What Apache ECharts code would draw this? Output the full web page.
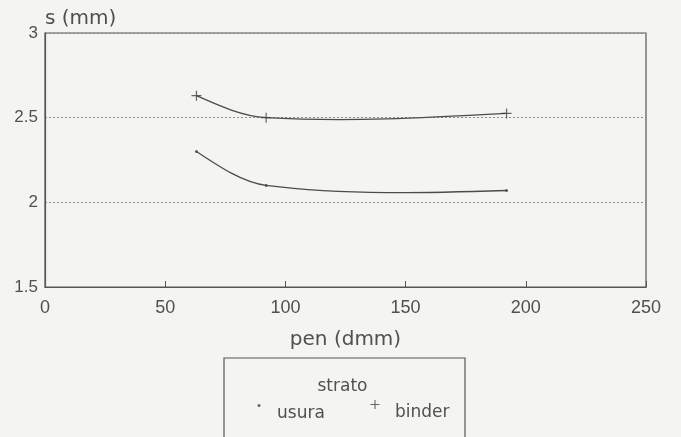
<!DOCTYPE html>
<html>
<head>
<meta charset="utf-8">
<script src="https://cdn.jsdelivr.net/npm/echarts@6/dist/echarts.min.js"></script>
<style>
  html, body { margin: 0; padding: 0; background: #f4f4f2; }
  #chart { width: 681px; height: 437px; }
</style>
</head>
<body>
<div id="chart"></div>
<script>
// penetration (dmm) vs. s (mm), per layer
const penValues = [63, 92, 192];
const usuraValues = [2.30, 2.10, 2.07];
const binderValues = [2.63, 2.50, 2.525];
const xTicks = [0, 50, 100, 150, 200, 250];
const yTicks = [1.5, 2, 2.5, 3];
const legendTitle = 'strato';
const seriesNames = ['usura', 'binder'];

const ink = '#505050';
const lineInk = '#4c4c4c';
const markInk = '#404040';
const wordFont = 'DejaVu Sans';
const numFont = 'Liberation Sans';
const plusPath = 'path://M0,4.4H10V5.6H0Z M4.4,0H5.6V10H4.4Z';

// Slopes for a cubic Hermite spline through pixel points:
// central differences inside, natural (quadratic) ends.
function splineSlopes(pts) {
  const n = pts.length;
  const d = [];
  for (let i = 0; i < n - 1; i++) {
    d.push((pts[i + 1][1] - pts[i][1]) / (pts[i + 1][0] - pts[i][0]));
  }
  const m = new Array(n);
  if (n === 2) { m[0] = m[1] = d[0]; return m; }
  for (let i = 1; i < n - 1; i++) {
    m[i] = (pts[i + 1][1] - pts[i - 1][1]) / (pts[i + 1][0] - pts[i - 1][0]);
  }
  m[0] = (3 * d[0] - m[1]) / 2;
  m[n - 1] = (3 * d[n - 2] - m[n - 2]) / 2;
  return m;
}

// One bezier segment per data point, from that point to the next.
function curveSeries(name, values) {
  return {
    name: name,
    type: 'custom',
    data: penValues.map((p, i) => [p, values[i]]),
    encode: { x: 0, y: 1 },
    silent: true,
    z: 2,
    itemStyle: { color: markInk },
    renderItem: function (params, api) {
      const i = params.dataIndex;
      if (i >= penValues.length - 1) return { type: 'group', children: [] };
      const pts = penValues.map((p, k) => api.coord([p, values[k]]));
      const m = splineSlopes(pts);
      const a = pts[i], b = pts[i + 1];
      const h = (b[0] - a[0]) / 3;
      return {
        type: 'bezierCurve',
        shape: {
          x1: a[0], y1: a[1], x2: b[0], y2: b[1],
          cpx1: a[0] + h, cpy1: a[1] + m[i] * h,
          cpx2: b[0] - h, cpy2: b[1] - m[i + 1] * h
        },
        style: { stroke: lineInk, lineWidth: 1.3, fill: null }
      };
    }
  };
}

// legend label sits a little below its marker
function legendText(padLeft) {
  return {
    fontFamily: wordFont, fontSize: 17, color: ink,
    rich: { t: { fontFamily: wordFont, fontSize: 17, color: ink, padding: [16, 0, 0, padLeft] } }
  };
}

const chart = echarts.init(document.getElementById('chart'));
chart.setOption({
  backgroundColor: '#f4f4f2',
  animation: false,
  grid: {
    left: 45, right: 35, top: 33, bottom: 150,
    show: true, borderColor: '#555', borderWidth: 1.2, backgroundColor: 'transparent'
  },
  xAxis: {
    type: 'value',
    min: xTicks[0], max: xTicks[xTicks.length - 1], interval: 50,
    name: 'pen (dmm)', nameLocation: 'middle', nameGap: 43,
    nameTextStyle: { fontFamily: wordFont, fontSize: 20, color: ink },
    axisLine: { show: true, lineStyle: { color: '#555', width: 1.2 } },
    axisTick: { show: true, inside: true, length: 6, lineStyle: { color: '#555' } },
    axisLabel: { margin: 12, fontFamily: numFont, fontSize: 18, color: ink },
    splitLine: { show: false }
  },
  yAxis: {
    type: 'value',
    min: yTicks[0], max: yTicks[yTicks.length - 1], interval: 0.5,
    name: 's (mm)', nameLocation: 'end', nameGap: 4,
    nameTextStyle: { fontFamily: wordFont, fontSize: 20, color: ink, align: 'left', padding: [0, 0, 0, 0] },
    axisLine: { show: true, lineStyle: { color: '#555', width: 1.2 } },
    axisTick: { show: false },
    axisLabel: {
      margin: 7, fontFamily: numFont, fontSize: 17, color: ink,
      formatter: v => String(v)
    },
    splitLine: { show: true, lineStyle: { color: '#8a8a8a', type: [2, 2], width: 1 } }
  },
  graphic: [
    {
      type: 'rect',
      shape: { x: 224, y: 358, width: 241, height: 82 },
      style: { fill: 'none', stroke: '#555', lineWidth: 1.2 }
    },
    {
      type: 'text', x: 342.5, y: 387,
      style: {
        text: legendTitle, fill: ink, font: '17px "DejaVu Sans"',
        textAlign: 'center', textVerticalAlign: 'middle'
      }
    }
  ],
  legend: [
    {
      data: [{ name: seriesNames[0], icon: 'circle', itemStyle: { color: markInk } }],
      left: 257.5, top: 404, padding: 0, itemWidth: 3, itemHeight: 3,
      formatter: '{t|{name}}',
      textStyle: legendText(11.5)
    },
    {
      data: [{ name: seriesNames[1], icon: plusPath, itemStyle: { color: markInk } }],
      left: 370.5, top: 400, padding: 0, itemWidth: 9, itemHeight: 9,
      formatter: '{t|{name}}',
      textStyle: legendText(10.5)
    }
  ],
  series: [
    {
      name: seriesNames[0], type: 'scatter',
      data: penValues.map((p, i) => [p, usuraValues[i]]),
      symbol: 'circle', symbolSize: 3,
      itemStyle: { color: markInk }, z: 3
    },
    {
      name: seriesNames[1], type: 'scatter',
      data: penValues.map((p, i) => [p, binderValues[i]]),
      symbol: plusPath, symbolSize: 10,
      itemStyle: { color: markInk }, z: 3
    },
    curveSeries(seriesNames[0], usuraValues),
    curveSeries(seriesNames[1], binderValues)
  ]
});
</script>
</body>
</html>
